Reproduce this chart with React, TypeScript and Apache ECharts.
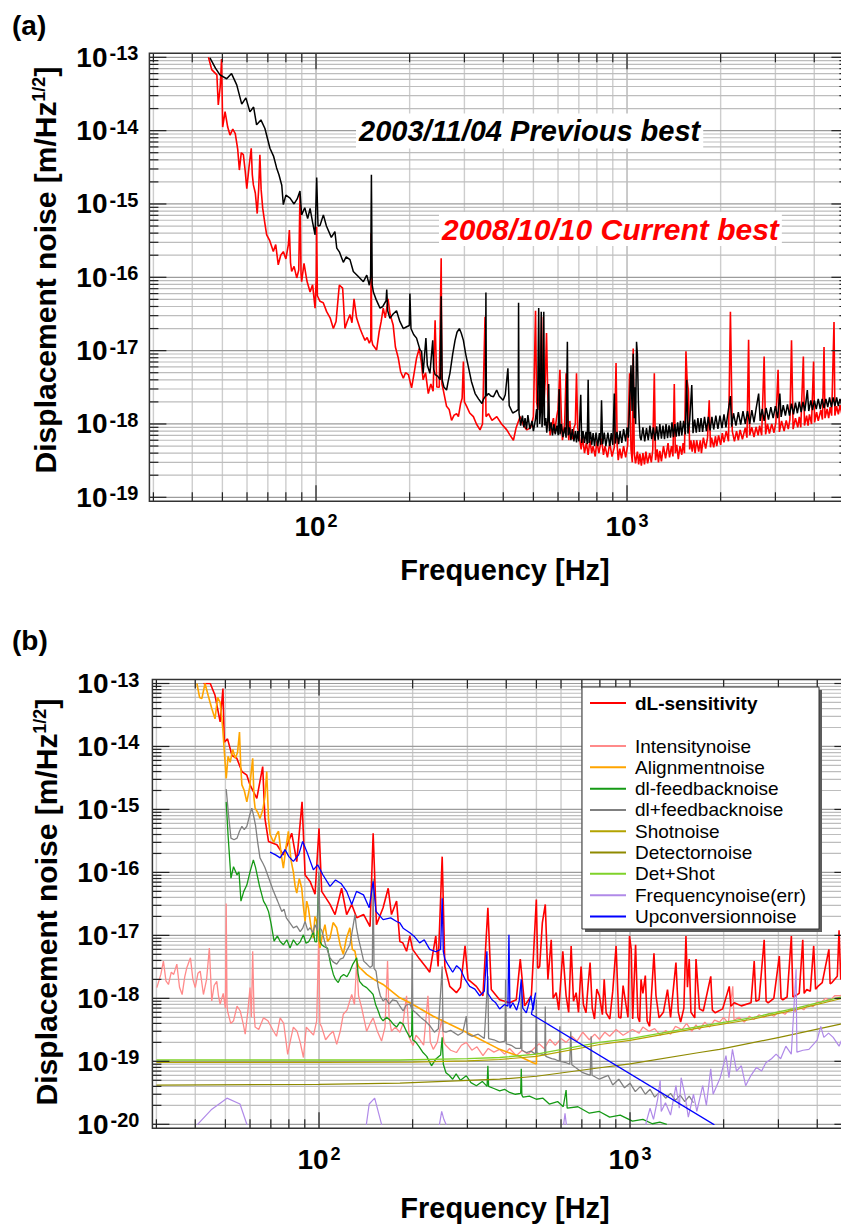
import React, { useEffect, useRef } from 'react';
import * as echarts from 'echarts';

type Pt = [number, number];

// ---------------- panel (a) data ----------------
const previousBest2003: Pt[] = [
  [45.6,9.8e-14],[47.5,7.1e-14],[49.1,5.75e-14],[51.6,5.1e-14],[53.5,6.0e-14],[55.6,4.2e-14],[57.7,2.3e-14],[59.5,2.8e-14],[61.3,1.8e-14],[63,2.1e-14],
  [64.4,1.2e-14],[66.5,1.4e-14],[68.5,1.07e-14],[71.1,5.75e-15],[73,4.5e-15],[74.7,3.1e-15],[76,2.5e-15],[77.6,1.8e-15],[78.5,9.8e-16],[80,1.32e-15],
  [82.5,1.2e-15],[85,1.0e-15],[87,1.17e-15],[88.8,1.5e-15],[89.9,7.1e-16],[92,8.9e-16],[94,6.3e-16],[95.7,8.7e-16],[97.5,5.6e-16],[99.3,3.8e-16],
  [100.5,2.3e-15],[101.5,5.0e-16],[103,5.1e-16],[105.6,7.1e-16],[108,5.0e-16],[112,3.5e-16],[115,4.2e-16],[116.6,2.5e-16],[119,2.2e-16],[122.4,1.6e-16],
  [125,1.9e-16],[128.6,1.74e-16],[131.8,1.2e-16],[136,1.05e-16],[142,8.7e-17],[145.6,1.07e-16],[148.4,7.8e-17],[149.8,1.0e-16],[150.7,2.5e-15],[151.6,7.9e-17],
  [152.9,6.3e-17],[156,5.0e-17],[160.6,3.8e-17],[164,4.0e-17],[168,4.8e-17],[168.8,6.8e-17],[170,3.5e-17],[172.8,2.75e-17],[177,3.16e-17],[181.5,3.5e-17],
  [186,2.5e-17],[190.9,2.0e-17],[195,2.1e-17],[199.5,2.2e-17],[200.4,6.0e-17],[202,2.0e-17],[206,1.66e-17],[210.5,1.48e-17],[216,1.02e-17],[218.5,9.8e-18],
  [221,4.9e-18],[225.6,1.48e-17],[228,6.3e-18],[232.4,4.9e-18],[237.3,1.38e-17],[239,5.6e-18],[241.5,4.7e-18],[246,4.5e-18],[250.8,4.0e-18],[252.6,5.5e-17],
  [254.5,4.0e-18],[258,3.16e-18],[262.9,2.9e-18],[266,3.8e-18],[269.5,4.9e-18],[275,8.9e-18],[279.9,1.38e-17],[284,1.78e-17],[289,2.0e-17],[293,1.74e-17],
  [297.8,1.38e-17],[303,8.9e-18],[309,6.0e-18],[316,3.8e-18],[324.8,2.6e-18],[333,2.2e-18],[341.6,1.9e-18],[346,2.2e-18],[350.5,2.4e-18],[351.8,6.2e-17],
  [353,2.4e-18],[358.6,2.6e-18],[365,2.4e-18],[372,2.35e-18],[381,2.9e-18],[388,2.4e-18],[399.5,2.1e-18],[406,2.5e-18],[414,5.75e-18],[418,1.78e-18],
  [429,1.41e-18],[440,1.5e-18],[447,1.58e-18],[448,4.5e-17],[449.5,1.41e-18],[455,9.5e-19],[461,1.3e-18],[466,9.0e-19],[470,1.2e-18],[475,8.5e-19],
  [480,1.32e-18],[487,8.5e-19],[495,1.1e-18],[500,8.0e-19],[507,1.12e-18],[512,1.6e-18],[515,9.0e-19],[520,3.8e-17],[524,1.0e-18],[527,1.5e-18],
  [530,3.4e-17],[533,9.0e-19],[536,1.4e-18],[540,3.4e-17],[543,9.5e-19],[548,1.2e-18],[552,7.6e-19],[556,1.1e-18],[560,3.5e-18],[563,8.0e-19],
  [570,1.05e-18],[576,7.0e-19],[582,1.0e-18],[588,7.2e-19],[595,9.5e-19],[601,7.0e-19],[605,3.0e-18],[609,7.2e-19],[615,1.0e-18],[622,6.6e-19],
  [631,9.0e-19],[637,6.5e-19],[643,1.32e-17],[647,7.0e-19],[653,9.0e-19],[660,6.0e-19],[667,8.5e-19],[675,5.8e-19],[682,8.0e-19],[688,5.6e-19],
  [694,8.0e-19],[700,5.8e-19],[710,2.5e-18],[715,5.5e-19],[722,8.0e-19],[730,5.5e-19],[738,7.8e-19],[745,5.3e-19],[750,4.0e-18],[755,5.5e-19],
  [763,7.8e-19],[770,5.2e-19],[778,7.5e-19],[786,5.0e-19],[795,7.6e-19],[805,5.0e-19],[815,7.5e-19],[822,5.2e-19],[828,2.1e-18],[835,5.3e-19],
  [845,7.6e-19],[855,5.0e-19],[868,7.6e-19],[880,5.0e-19],[890,7.5e-19],[900,5.2e-19],[910,2.6e-18],[917,5.4e-19],[928,7.8e-19],[940,5.3e-19],
  [950,8.0e-19],[962,5.5e-19],[975,8.5e-19],[990,5.8e-19],[1000,9.0e-19],[1010,6.5e-19],[1020,2.0e-18],[1030,6.3e-18],[1038,1.5e-18],[1047,9.1e-18],
  [1055,1.2e-18],[1060,3.16e-18],[1066,1.0e-18],[1073,1.32e-17],[1080,8.9e-18],[1088,2.0e-18],[1095,1.0e-18],[1102,6.6e-19],[1110,6.0e-19],[1125,9.0e-19],
  [1140,5.8e-19],[1155,8.8e-19],[1170,6.0e-19],[1185,9.5e-19],[1200,6.2e-19],[1215,9.0e-19],[1230,5.9e-19],[1245,9.3e-19],[1260,6.1e-19],[1275,1.0e-18],
  [1290,6.3e-19],[1305,9.5e-19],[1320,6.2e-19],[1335,1.0e-18],[1350,6.4e-19],[1365,9.6e-19],[1380,6.5e-19],[1395,1.05e-18],[1410,6.6e-19],[1425,1.0e-18],
  [1440,6.7e-19],[1455,1.05e-18],[1470,6.8e-19],[1485,1.1e-18],[1500,7.0e-19],[1520,1.1e-18],[1540,7.2e-19],[1556,4.0e-18],[1570,7.4e-19],[1590,1.1e-18],
  [1615,3.4e-18],[1630,7.5e-19],[1650,1.15e-18],[1670,7.6e-19],[1690,1.2e-18],[1710,7.8e-19],[1730,1.2e-18],[1750,7.8e-19],[1775,1.25e-18],[1800,8.0e-19],
  [1825,1.25e-18],[1850,8.2e-19],[1875,1.25e-18],[1900,8.4e-19],[1930,1.3e-18],[1960,8.6e-19],[1990,1.3e-18],[2020,8.8e-19],[2050,1.35e-18],[2080,9.0e-19],
  [2110,1.4e-18],[2150,2.4e-18],[2170,9.2e-19],[2200,1.4e-18],[2240,9.5e-19],[2280,1.45e-18],[2320,9.8e-19],[2360,1.5e-18],[2400,1.0e-18],[2440,1.5e-18],
  [2480,1.0e-18],[2520,1.55e-18],[2560,1.05e-18],[2600,1.6e-18],[2650,2.6e-18],[2680,1.1e-18],[2720,1.6e-18],[2760,1.1e-18],[2800,1.65e-18],[2850,1.15e-18],
  [2900,1.7e-18],[2950,1.2e-18],[3000,1.75e-18],[3050,1.2e-18],[3100,2.6e-18],[3130,1.25e-18],[3180,1.8e-18],[3230,1.3e-18],[3280,1.85e-18],[3330,1.3e-18],
  [3380,1.9e-18],[3430,1.35e-18],[3480,1.95e-18],[3530,1.4e-18],[3580,2.0e-18],[3630,1.45e-18],[3680,2.0e-18],[3730,1.5e-18],[3800,2.9e-18],[3840,1.5e-18],
  [3900,2.1e-18],[3950,1.55e-18],[4000,2.1e-18],[4060,1.6e-18],[4120,2.2e-18],[4180,1.6e-18],[4240,2.2e-18],[4300,1.65e-18],[4360,2.2e-18],[4420,1.7e-18],
  [4480,2.3e-18],[4540,1.7e-18],[4600,2.3e-18],[4660,1.75e-18],[4720,2.3e-18],[4780,1.75e-18],[4840,2.2e-18],[4900,1.8e-18],[4960,2.3e-18],[5000,1.9e-18],
];

const currentBest2008: Pt[] = [
  [45.1,1.0e-13],[46.2,6.8e-14],[48,5.75e-14],[48.5,2.24e-14],[49.2,4.0e-14],[49.7,9.5e-14],[50.1,1.12e-14],[51,1.82e-14],[52,1.12e-14],[52.9,8.7e-15],
  [54,1.05e-14],[55,9.1e-15],[56,5.6e-15],[56.7,2.9e-15],[57.5,5.0e-15],[58.4,4.7e-15],[59.2,2.8e-15],[59.9,1.62e-15],[60.9,3.2e-15],[61.9,5.75e-15],
  [62.4,2.5e-15],[62.9,1.82e-15],[63.8,1.41e-15],[64.7,7.4e-16],[65.4,1.58e-15],[66,4.7e-15],[66.6,1.58e-15],[67.4,8.7e-16],[68.4,5.6e-16],[69.4,3.8e-16],
  [71,3.16e-16],[72.9,2.24e-16],[74.2,2.8e-16],[75.6,1.48e-16],[77,2.0e-16],[78.5,2.24e-16],[80,1.78e-16],[81.5,2.8e-16],[82.1,4.4e-16],[82.8,1.58e-16],
  [83.5,1.2e-16],[85,1.41e-16],[86.7,9.8e-17],[88,1.26e-16],[88.8,1.32e-15],[89.5,1.12e-16],[89.9,8.7e-17],[91.5,1.55e-16],[93.5,8.9e-17],[95.7,6.3e-17],
  [97.5,7.9e-17],[99.3,3.8e-17],[100.2,1.0e-16],[100.5,4.9e-16],[101,5.6e-17],[103,4.7e-17],[105.5,4.5e-17],[108.2,3.4e-17],[111,2.8e-17],[113.7,2.0e-17],
  [116,2.5e-17],[118.8,7.8e-17],[121.8,7.1e-17],[123.9,2.0e-17],[126,2.5e-17],[128.6,3.1e-17],[130.5,2.4e-17],[132.5,5.1e-17],[135,2.8e-17],[138.5,2.0e-17],
  [141,1.66e-17],[143.7,1.38e-17],[146,1.51e-17],[148.4,1.26e-17],[150,1.41e-17],[150.4,4.0e-16],[151,1.41e-17],[152.2,1.2e-17],[156.6,1.02e-17],[159.5,1.78e-17],
  [162,2.5e-17],[164.5,3.8e-17],[167,2.8e-17],[170.5,5.1e-17],[173,3.16e-17],[177,2.24e-17],[180,1.12e-17],[183.9,7.9e-18],[187,5.2e-18],[190.9,4.2e-18],
  [194,5.0e-18],[198.2,4.7e-18],[202.9,3.1e-18],[206,4.5e-18],[210.5,7.9e-18],[214.7,1.07e-17],[218,7.1e-18],[221,4.0e-18],[225,5.0e-18],[229.6,2.6e-18],
  [234,3.5e-18],[238,2.8e-18],[241.5,2.6e-17],[244.6,3.2e-18],[249,3.16e-18],[252.6,1.82e-16],[254,3.5e-18],[256.6,2.9e-18],[262.9,1.74e-18],[268,1.58e-18],
  [272.8,1.12e-18],[278,1.32e-18],[283.2,1.38e-18],[287,1.26e-18],[291.7,1.9e-18],[295,2.24e-18],[297.8,7.1e-18],[300,2.0e-18],[305.1,1.74e-18],[312,1.41e-18],
  [320.6,1.26e-18],[328,1.0e-18],[336.8,8.3e-19],[343,1.0e-18],[349.5,2.9e-17],[352,1.26e-18],[358.5,1.38e-18],[368,1.12e-18],[381.3,1.26e-18],[395,1.0e-18],
  [410.5,8.3e-19],[420,7.1e-19],[431.3,6.0e-19],[440,8.9e-19],[453.3,1.26e-18],[465,9.5e-19],[476.3,8.3e-19],[490,8.9e-19],[500,1.26e-18],[508,3.5e-17],
  [512,2.0e-18],[516.7,1.55e-18],[525,3.16e-18],[531.3,2.9e-17],[535,2.5e-18],[540,1.74e-18],[546,4.0e-18],[551,1.74e-17],[556,2.5e-18],[562,1.12e-18],
  [566,7.0e-19],[571.8,9.1e-19],[580,1.2e-18],[585,7.5e-19],[590,1.0e-18],[595,1.3e-18],[600,1.58e-18],[608.5,5.5e-18],[615,1.26e-18],[620,6.0e-19],
  [625,7.9e-19],[630,1.0e-18],[637,4.9e-18],[645,1.0e-18],[650,6.0e-19],[655,1.1e-18],[660,7.1e-19],[668,6.2e-19],[675,8.9e-19],[682,1.0e-18],
  [688,4.9e-18],[694,8.9e-19],[700,7.4e-19],[712,4.5e-19],[720,6.5e-19],[730,4.0e-19],[740,5.5e-19],[750,3.8e-19],[760,6.0e-19],[770,4.0e-19],
  [778,5.0e-19],[790,3.6e-19],[800,5.8e-19],[812,4.0e-19],[828,6.3e-19],[840,3.8e-19],[850,5.0e-19],[865,3.5e-19],[880,5.5e-19],[895,3.6e-19],
  [910,4.8e-19],[922,6.8e-18],[930,5.0e-19],[937,3.2e-19],[948,4.6e-19],[960,3.4e-19],[975,5.0e-19],[990,3.5e-19],[1005,5.2e-19],[1019,4.9e-18],
  [1030,4.5e-19],[1040,3.0e-19],[1047,1.07e-17],[1055,4.0e-19],[1065,2.9e-19],[1080,4.2e-19],[1090,2.8e-19],[1100,3.9e-19],[1112,2.7e-19],[1125,4.0e-19],
  [1138,2.8e-19],[1150,4.2e-19],[1165,2.9e-19],[1183,4.0e-19],[1197,3.0e-19],[1210,4.4e-19],[1224,4.9e-18],[1235,3.2e-19],[1250,4.5e-19],[1262,3.0e-19],
  [1275,4.3e-19],[1290,3.1e-19],[1310,5.0e-19],[1330,3.4e-19],[1355,5.5e-19],[1370,3.5e-19],[1390,5.0e-19],[1405,3.6e-19],[1419,3.5e-18],[1430,4.0e-19],
  [1445,5.2e-19],[1462,3.3e-19],[1480,5.0e-19],[1500,3.8e-19],[1515,5.5e-19],[1530,4.0e-19],[1547,9.8e-18],[1560,4.0e-18],[1576,2.8e-18],[1590,4.5e-19],
  [1605,6.0e-19],[1620,4.2e-19],[1640,6.0e-19],[1655,4.0e-19],[1675,6.0e-19],[1700,4.2e-19],[1720,6.0e-19],[1735,4.0e-19],[1760,6.5e-19],[1790,4.6e-19],
  [1815,6.5e-19],[1838,2.1e-18],[1855,4.8e-19],[1870,6.5e-19],[1900,4.8e-19],[1925,6.8e-19],[1943,5.0e-19],[1970,7.0e-19],[2000,5.2e-19],[2025,7.5e-19],
  [2050,5.6e-19],[2085,8.0e-19],[2120,5.8e-19],[2150,3.4e-17],[2180,8.0e-19],[2215,5.8e-19],[2250,8.0e-19],[2280,6.0e-19],[2310,8.3e-19],[2350,6.2e-19],
  [2400,8.9e-19],[2430,6.5e-19],[2460,1.41e-17],[2480,7.0e-19],[2520,9.0e-19],[2560,6.6e-19],[2600,9.1e-19],[2640,7.0e-19],[2670,9.5e-19],[2710,7.0e-19],
  [2760,8.3e-18],[2790,7.2e-19],[2830,1.0e-18],[2870,7.4e-19],[2920,1.0e-18],[2970,7.6e-19],[3010,1.05e-18],[3060,5.5e-18],[3090,7.8e-19],[3140,1.1e-18],
  [3200,8.0e-19],[3250,1.12e-18],[3300,8.5e-19],[3340,1.15e-18],[3380,1.38e-17],[3420,8.5e-19],[3480,1.2e-18],[3540,9.0e-19],[3580,1.25e-18],[3620,9.0e-19],
  [3690,8.3e-18],[3720,9.5e-19],[3780,1.3e-18],[3820,9.5e-19],[3860,1.35e-18],[3920,1.0e-18],[3980,7.1e-18],[4010,1.05e-18],[4070,1.45e-18],[4120,1.1e-18],
  [4200,1.55e-18],[4250,1.15e-18],[4300,1.12e-17],[4330,1.2e-18],[4400,1.6e-18],[4450,1.2e-18],[4500,1.7e-18],[4550,1.3e-18],[4630,2.45e-17],[4660,1.3e-18],
  [4720,1.75e-18],[4780,1.35e-18],[4840,1.8e-18],[4900,1.4e-18],[4960,1.8e-18],[5000,1.5e-18],
];

// ---------------- panel (b) data ----------------
const dlSensitivity: Pt[] = [
  [42.5,1.0e-13],[44.7,1.0e-13],[46.3,6.5e-14],[48.1,2.45e-14],[49.1,8.3e-14],[49.6,1.17e-14],[50.8,1.32e-14],[52.5,7.2e-15],[54.4,6.5e-15],[56.5,4.0e-15],
  [58.6,3.5e-15],[60,2.45e-15],[63.1,1.5e-15],[65.9,4.8e-15],[67,7.2e-16],[68.8,3.1e-16],[73.2,2.75e-16],[76.8,1.9e-16],[81.7,4.2e-16],[84.8,1.48e-16],
  [88.2,1.32e-15],[90.2,9.1e-17],[93.6,7.2e-17],[97.1,4.5e-17],[100,5.0e-16],[102,5.0e-17],[108.5,3.1e-17],[112.6,2.14e-17],[118.2,5.6e-17],[122.7,2.14e-17],
  [127.4,3.1e-17],[132.2,1.9e-17],[139.2,2.14e-17],[145.9,1.38e-17],[149.3,4.2e-16],[153,1.48e-17],[160.7,2.75e-17],[166.9,5.6e-17],[171,2.14e-17],[177.6,3.5e-17],
  [181.9,8.0e-18],[186,7.6e-18],[191.2,5.6e-18],[195.9,9.8e-18],[200,6.0e-18],[210.6,4.2e-18],[220,3.2e-18],[227,2.6e-18],[237.4,9.8e-18],[241.5,3.2e-18],
  [248.9,1.78e-16],[253.9,3.2e-18],[263.3,1.55e-18],[276.6,1.23e-18],[285,1.5e-18],[294.8,6.8e-18],[301.4,2.0e-18],[320.6,1.55e-18],[336.6,1.1e-18],[349.1,2.75e-17],
  [358,1.38e-18],[380.8,9.5e-19],[410,8.5e-19],[430.8,9.5e-19],[443.7,4.2e-18],[458.4,7.6e-19],[481.7,1.1e-18],[499.8,3.7e-17],[505,3.0e-18],[512.3,3.2e-18],
  [522.5,1.58e-17],[534,3.1e-17],[544.5,2.0e-18],[558,8.5e-18],[566,1.0e-18],[578.8,1.23e-18],[590,6.5e-19],[608,5.6e-18],[623,1.1e-18],[635,6.0e-19],
  [646.7,6.8e-18],[658,9.0e-19],[671,1.23e-18],[683,6.0e-19],[696,3.2e-18],[708,8.0e-19],[722,5.9e-19],[733,1.6e-18],[744,3.7e-18],[756,7.0e-19],
  [768.7,4.7e-19],[782,1.4e-18],[797,1.1e-18],[815,5.5e-19],[826,2.0e-18],[838,5.9e-19],[861,4.7e-19],[880,1.3e-18],[902,6.8e-18],[920,5.0e-19],
  [935,4.9e-19],[950,1.6e-18],[970,8.0e-19],[985,5.0e-19],[996,9.8e-18],[1009,6.0e-18],[1020,4.7e-19],[1042,7.1e-18],[1060,5.0e-19],[1074,4.2e-19],
  [1085,2.0e-18],[1100,1.2e-18],[1120,2.3e-18],[1135,4.4e-19],[1156,3.6e-19],[1194,5.2e-18],[1212,1.1e-18],[1240,4.9e-19],[1280,6.0e-19],[1320,1.38e-18],
  [1350,5.0e-19],[1405,3.7e-18],[1430,6.0e-19],[1455,4.2e-19],[1490,7.0e-19],[1513,9.8e-18],[1530,1.5e-18],[1550,4.2e-18],[1570,6.0e-19],[1615,4.9e-19],
  [1630,4.2e-18],[1672,6.8e-19],[1720,6.3e-19],[1818,2.24e-18],[1840,6.5e-19],[1880,5.9e-19],[1985,6.8e-19],[2085,1.55e-18],[2110,7.5e-19],[2164,8.5e-19],
  [2280,7.6e-19],[2450,8.5e-19],[2508,3.9e-18],[2540,9.0e-19],[2600,9.5e-19],[2700,8.5e-18],[2740,9.0e-19],[2780,8.5e-19],[2900,1.0e-18],[3020,4.7e-18],
  [3060,1.0e-18],[3100,9.5e-19],[3200,1.05e-18],[3302,9.8e-18],[3340,1.05e-18],[3400,1.1e-18],[3500,1.2e-18],[3593,8.5e-18],[3630,1.2e-18],[3700,1.38e-18],
  [3800,1.3e-18],[3896,6.8e-18],[3950,1.4e-18],[4020,1.55e-18],[4150,1.78e-18],[4360,6.0e-18],[4400,1.7e-18],[4460,1.78e-18],[4640,2.24e-18],[4700,1.2e-17],
  [4760,2.0e-18],[4900,2.5e-18],[5000,2.2e-18],
];

const intensityNoise: Pt[] = [
  [30.1,1.48e-18],[31,2.4e-18],[31.6,3.9e-18],[32.2,1.9e-18],[32.8,1.66e-18],[33.5,2.6e-18],[34.1,2.4e-18],[34.9,3.5e-18],[35.6,1.5e-18],[36.3,1.15e-18],
  [37,2.2e-18],[37.6,3.1e-18],[38.6,4.4e-18],[39.3,2.0e-18],[40,1.48e-18],[40.8,2.5e-18],[41.5,2.7e-18],[42.5,1.15e-18],[43.5,2.0e-18],[44.4,6.3e-18],
  [45.2,9.1e-19],[46,1.6e-18],[46.9,1.86e-18],[47.5,1.1e-18],[48.1,8.1e-19],[49.2,1.2e-18],[50,7.0e-19],[50.3,3.2e-17],[50.6,8.0e-19],[50.8,6.3e-19],
  [52,4.0e-19],[53.1,4.4e-19],[54.5,7.5e-19],[55.8,6.3e-19],[57,4.0e-19],[57.9,2.7e-19],[59,6.0e-19],[60,1.48e-18],[60.6,5.0e-19],[61.2,5.6e-18],
  [61.8,6.0e-19],[62.3,3.5e-19],[64,3.2e-19],[66.3,4.9e-19],[68.5,4.4e-19],[71.4,3.0e-19],[73,2.5e-19],[75,4.9e-19],[77,4.0e-19],[79.3,1.29e-19],
  [81,2.2e-19],[82.7,3.5e-19],[85,3.0e-19],[87,2.0e-19],[89.1,1.15e-19],[91,3.5e-19],[93.6,3.0e-19],[96,2.6e-19],[98.3,4.4e-19],[99.8,1.02e-17],
  [100.6,4.0e-19],[102,3.5e-19],[105,2.2e-19],[108.5,2.7e-19],[111,3.0e-19],[114,1.86e-19],[117,3.0e-19],[119.7,5.6e-19],[123,6.5e-19],[127.4,1.15e-18],
  [130,8.0e-19],[132.2,3.9e-18],[134,1.1e-18],[137.1,7.1e-19],[142.3,3.0e-19],[146,4.0e-19],[149.3,4.9e-19],[154,3.0e-19],[158.9,2.1e-19],[163,3.5e-19],
  [166.1,3.9e-18],[168,5.0e-19],[171,3.0e-19],[176,3.5e-19],[181.9,2.9e-19],[186,3.9e-19],[191.2,1.1e-18],[195,2.4e-19],[200.6,1.78e-19],[205,2.6e-19],
  [210.6,2.24e-19],[217,1.8e-19],[224,1.1e-18],[228,2.0e-19],[233,1.55e-19],[240,2.0e-19],[248,4.7e-19],[252,2.0e-19],[256,1.78e-19],[265,1.5e-19],
  [276.6,1.38e-19],[287,1.8e-19],[297.6,2.0e-19],[310,1.5e-19],[322,1.7e-19],[336.6,1.23e-19],[350,1.6e-19],[365,1.4e-19],[380.8,1.55e-19],[395,1.3e-19],
  [410,1.6e-19],[430.8,1.23e-19],[450,1.5e-19],[470,1.3e-19],[488,1.55e-19],[510,1.9e-19],[530,1.6e-19],[552,2.24e-19],[575,1.8e-19],[600,2.3e-19],
  [623,2.0e-19],[650,2.5e-19],[675,2.1e-19],[705,2.9e-19],[740,2.2e-19],[770,2.7e-19],[797,2.24e-19],[830,2.9e-19],[860,2.5e-19],[902,3.2e-19],
  [950,2.6e-19],[1018,3.2e-19],[1070,2.8e-19],[1100,3.5e-19],[1150,3.0e-19],[1200,3.3e-19],[1250,2.6e-19],[1303,3.1e-19],[1350,2.7e-19],[1400,3.6e-19],
  [1470,3.2e-19],[1520,4.0e-19],[1580,3.0e-19],[1630,3.8e-19],[1672,3.2e-19],[1740,4.2e-19],[1800,3.5e-19],[1870,4.5e-19],[1940,4.2e-19],[2000,5.0e-19],
  [2070,4.0e-19],[2140,1.55e-18],[2160,4.5e-19],[2240,5.0e-19],[2330,4.2e-19],[2420,5.2e-19],[2500,4.6e-19],[2600,5.5e-19],[2700,5.0e-19],[2800,5.8e-19],
  [2900,5.2e-19],[3020,6.3e-19],[3150,5.6e-19],[3280,6.8e-19],[3400,6.2e-19],[3500,7.2e-19],[3620,6.6e-19],[3750,8.0e-19],[3880,7.4e-19],[4000,8.9e-19],
  [4100,8.5e-19],[4250,1.0e-18],[4400,9.3e-19],[4550,1.1e-18],[4750,1.1e-18],[4900,1.26e-18],[5000,1.2e-18],
];

const alignmentNoise: Pt[] = [
  [40.5,1.0e-13],[41.3,6.0e-14],[42,5.75e-14],[43,1.0e-13],[44,6.5e-14],[45.2,4.0e-14],[46.3,2.75e-14],[47.2,6.0e-14],[48.1,5.0e-14],[49,2.0e-14],
  [50.3,3.1e-15],[51,7.0e-15],[51.8,5.6e-15],[52.8,9.0e-15],[53.8,6.5e-15],[54.7,8.0e-15],[55.5,1.7e-14],[56,5.0e-15],[56.5,2.45e-15],[57.5,2.0e-15],
  [58.6,1.32e-15],[59.8,2.2e-15],[61.2,6.5e-15],[61.8,1.5e-15],[62.3,1.05e-15],[63.5,9.0e-16],[64.6,7.2e-16],[66,1.0e-15],[67,1.6e-15],[67.9,4.0e-15],
  [68.8,7.0e-16],[69.6,4.0e-16],[71.5,3.0e-16],[73,4.0e-16],[74.1,4.5e-16],[75.5,2.0e-16],[76.8,1.17e-16],[78.3,2.5e-16],[79.7,4.5e-16],[81.2,1.6e-16],
  [82.7,1.02e-16],[83.8,6.0e-17],[84.8,4.7e-17],[86.4,8.0e-17],[88,5.6e-17],[89,3.0e-17],[90.2,1.66e-17],[91.3,3.5e-17],[92.4,2.75e-17],[94,1.5e-17],
  [95.9,9.1e-18],[97,2.0e-17],[98.3,1.66e-17],[99.5,1.0e-17],[100.7,6.3e-18],[102.5,1.0e-17],[104.5,1.48e-17],[106.5,8.0e-18],[108.5,9.1e-18],[111,1.6e-17],
  [114,1.32e-17],[117,7.0e-18],[119.7,5.0e-18],[122.5,9.0e-18],[125.7,1.32e-17],[128,6.0e-18],[130.5,5.6e-18],[132,4.0e-18],[134,3.2e-18],[142.3,2.4e-18],
  [150,2.0e-18],[160.7,1.66e-18],[181.9,1.02e-18],[195.9,8.5e-19],[233,5.2e-19],[297.6,2.9e-19],[380.8,1.55e-19],[440,1.2e-19],[488,9.5e-20],[500,9.1e-20],
  [500.5,1.4e-19],
];

const dlFeedbackNoise: Pt[] = [
  [50.3,1.32e-15],[51,3.9e-16],[52.1,8.1e-17],[53.1,1.23e-16],[54.5,9.1e-17],[55.3,1.02e-16],[56.1,3.5e-17],[57.3,5.0e-17],[58.6,6.3e-17],[60,1.02e-16],
  [61.5,1.58e-16],[62.5,1.2e-16],[64.4,6.0e-17],[66.3,3.5e-17],[67.5,3.0e-17],[68.8,2.4e-17],[70.2,1.5e-17],[71.7,8.1e-18],[73.5,9.8e-18],[75,8.0e-18],
  [76.8,7.1e-18],[78.8,8.5e-18],[80.7,6.3e-18],[82.7,8.5e-18],[85,7.0e-18],[87,7.9e-18],[89.1,1.02e-17],[90.8,7.5e-18],[92.5,7.9e-18],[94,9.0e-18],
  [95.9,1.15e-17],[97,8.0e-18],[98.3,7.9e-18],[99.8,9.1e-17],[100.8,8.0e-18],[102,7.1e-18],[104,6.6e-18],[106.5,6.3e-18],[109,3.5e-18],[111.2,2.4e-18],
  [113,2.0e-18],[115.3,1.78e-18],[117.5,2.2e-18],[120,2.4e-18],[123,2.2e-18],[125.7,2.7e-18],[128.5,3.5e-18],[132.2,4.4e-18],[133.5,2.5e-18],[135,1.86e-18],
  [138.5,1.6e-18],[142.3,1.48e-18],[146,1.3e-18],[149.3,1.15e-18],[152,8.0e-19],[155,6.3e-19],[157.5,5.0e-19],[160.7,4.4e-19],[165,5.0e-19],[170,4.4e-19],
  [174,3.8e-19],[177.6,3.5e-19],[182,4.2e-19],[186.4,3.9e-19],[191,3.0e-19],[195.9,2.4e-19],[198.5,2.6e-19],[199.3,9.3e-19],[200.1,2.2e-19],[205,2.0e-19],
  [210,1.7e-19],[216,1.38e-19],[222,1.2e-19],[230,8.5e-20],[238,1.1e-19],[246,1.26e-19],[248.9,2.4e-19],[251,9.0e-20],[256,6.6e-20],[262,6.0e-20],
  [269,5.2e-20],[276,6.3e-20],[285,5.0e-20],[297.6,5.9e-20],[308,4.6e-20],[320.6,4.1e-20],[335,4.8e-20],[347,4.0e-20],[349.1,8.5e-20],[351,4.0e-20],
  [365,3.7e-20],[380.8,3.4e-20],[395,3.6e-20],[410,3.2e-20],[428,3.0e-20],[445,3.1e-20],[447,7.6e-20],[449,2.9e-20],[453,2.7e-20],[475,2.8e-20],
  [499.8,2.5e-20],[525,2.6e-20],[550,2.1e-20],[585,2.3e-20],[610,1.9e-20],[623,3.5e-20],[628,1.8e-20],[680,1.9e-20],[740,1.5e-20],[797,1.6e-20],
  [860,1.3e-20],[930,1.4e-20],[1018,1.12e-20],[1100,1.2e-20],[1180,1.02e-20],[1247,1.08e-20],[1313,1.0e-20],
];

const dlPlusFeedbackNoise: Pt[] = [
  [50.3,2.1e-15],[51.2,8.0e-16],[52.1,3.5e-16],[53.3,3.3e-16],[54.5,3.5e-16],[55.5,4.5e-16],[56.5,5.4e-16],[57.5,4.8e-16],[58.6,5.4e-16],[59.8,8.0e-16],
  [60.8,1.05e-15],[61.6,8.0e-16],[62.5,5.6e-16],[63.5,3.0e-16],[64.6,1.7e-16],[66,1.4e-16],[67,1.2e-16],[69,8.0e-17],[71.4,5.0e-17],[73.6,3.5e-17],
  [75.9,2.4e-17],[77.2,2.6e-17],[78.5,1.9e-17],[80.5,1.6e-17],[82.7,1.32e-17],[84.8,1.4e-17],[87,1.15e-17],[88.6,1.3e-17],[90.2,1.66e-17],[92,1.2e-17],
  [93.6,1.32e-17],[95.5,1.1e-17],[97.1,1.48e-17],[98.8,1.2e-17],[99.8,1.02e-16],[100.8,1.3e-17],[102,1.2e-17],[105,7.0e-18],[108.5,4.4e-18],[111,3.8e-18],
  [114,3.5e-18],[117,4.2e-18],[119.7,4.4e-18],[122.5,5.6e-18],[125.7,7.1e-18],[128,1.2e-17],[130.5,2.14e-17],[132,1.3e-17],[133.8,9.1e-18],[136.5,6.0e-18],
  [139.2,3.9e-18],[142.5,3.5e-18],[145.9,3.1e-18],[148.4,3.3e-18],[149.3,7.9e-17],[150.3,3.0e-18],[152.5,2.7e-18],[155,1.5e-18],[157.5,1.1e-18],[160.7,9.1e-19],
  [164,1.0e-18],[168,8.1e-19],[172.5,9.5e-19],[177.6,9.1e-19],[182,7.5e-19],[186.4,6.3e-19],[191,7.9e-19],[195.9,8.1e-19],[198.5,7.0e-19],[199.3,5.2e-18],
  [200.1,6.5e-19],[205,5.9e-19],[212,5.0e-19],[221.4,4.2e-19],[228,3.6e-19],[235,2.9e-19],[242,3.3e-19],[248.9,3.2e-18],[250.5,3.0e-19],[256,2.9e-19],
  [265,3.1e-19],[280,2.6e-19],[290,2.9e-19],[297.6,5.2e-19],[300,2.7e-19],[310,2.5e-19],[325,2.7e-19],[340,2.3e-19],[349.1,2.24e-18],[351,2.3e-19],
  [365,2.2e-19],[380.8,2.0e-19],[396,2.1e-19],[398,2.0e-18],[400,1.9e-19],[415,1.8e-19],[430,1.6e-19],[445,1.6e-19],[447,1.78e-18],[449,1.5e-19],
  [464,1.38e-19],[480,1.45e-19],[497,1.3e-19],[499.8,9.5e-19],[502,1.35e-19],[520,1.3e-19],[532,1.25e-19],[534,7.4e-19],[536,1.2e-19],[560,1.1e-19],
  [575,1.07e-19],[593,1.0e-19],[595,3.6e-19],[597,1.0e-19],[623,9.5e-20],[640,9.0e-20],[645,3.0e-19],[650,8.8e-20],[680,7.5e-20],[705,6.6e-20],
  [745,6.0e-20],[750,2.5e-19],[755,6.0e-20],[797,5.2e-20],[850,6.0e-20],[880,4.2e-20],[920,5.2e-20],[960,3.8e-20],[1000,4.5e-20],[1040,3.3e-20],
  [1080,4.0e-20],[1120,3.0e-20],[1160,3.6e-20],[1200,2.7e-20],[1250,3.3e-20],[1302,2.6e-20],[1350,3.1e-20],[1400,2.4e-20],[1450,2.9e-20],[1500,2.3e-20],
  [1550,2.8e-20],[1600,2.2e-20],
];

const shotNoise: Pt[] = [
  [30,9.6e-20],[100,9.6e-20],[200,9.7e-20],[300,1.02e-19],[381,1.07e-19],[500,1.2e-19],[800,1.85e-19],[1000,2.15e-19],[1672,3.4e-19],[2500,4.7e-19],
  [3500,6.8e-19],[4640,9.6e-19],[5000,1.05e-18],
];

const detectorNoise: Pt[] = [
  [30,4.2e-20],[100,4.3e-20],[182,4.5e-20],[381,5.2e-20],[500,5.8e-20],[800,7.9e-20],[1000,9.1e-20],[1672,1.38e-19],[1940,1.55e-19],[3020,2.4e-19],
  [4750,3.9e-19],[5000,4.1e-19],
];

const detShotNoise: Pt[] = [
  [30,1.05e-19],[100,1.05e-19],[182,1.05e-19],[300,1.1e-19],[381,1.15e-19],[500,1.3e-19],[797,2.0e-19],[1000,2.3e-19],[1672,3.6e-19],[2500,5.0e-19],
  [3500,7.2e-19],[4640,1.02e-18],[5000,1.1e-18],
];

const frequencyNoiseErr: Pt[] = [
  [38,5.0e-21],[40.7,1.0e-20],[45,1.7e-20],[50.6,2.6e-20],[55.7,2.1e-20],[58.6,1.0e-20],[62,5.0e-21],[140,5.0e-21],[142,1.0e-20],[145,2.1e-20],
  [151,2.6e-20],[158.9,1.0e-20],[162,5.0e-21],[240,5.0e-21],[244,1.0e-20],[248,1.6e-20],[252,1.2e-20],[256,1.0e-20],[260,5.0e-21],[600,5.0e-21],
  [612,1.0e-20],[618,1.5e-20],[624,1.0e-20],[630,5.0e-21],[1110,5.0e-21],[1127,1.07e-20],[1160,1.8e-20],[1190,1.2e-20],[1227,2.5e-20],[1250,5.0e-20],
  [1260,1.6e-20],[1300,2.2e-20],[1350,1.4e-20],[1405,4.1e-20],[1440,1.8e-20],[1460,5.5e-20],[1500,3.0e-20],[1540,1.3e-20],[1600,3.0e-20],[1640,1.6e-20],
  [1713,4.1e-20],[1760,2.0e-20],[1818,7.6e-20],[1850,3.0e-20],[1950,5.5e-20],[2035,1.23e-19],[2080,5.5e-20],[2135,1.55e-19],[2200,7.0e-20],[2280,8.5e-20],
  [2354,4.1e-20],[2450,6.0e-20],[2550,8.0e-20],[2650,7.0e-20],[2734,9.5e-20],[2850,1.1e-19],[2950,1.3e-19],[3050,1.1e-19],[3170,1.74e-19],[3300,1.3e-19],
  [3420,2.9e-18],[3440,1.4e-19],[3600,1.5e-19],[3760,1.55e-19],[3900,1.9e-19],[4000,2.2e-19],[4105,3.6e-19],[4200,2.4e-19],[4350,2.8e-19],[4500,2.4e-19],
  [4700,1.74e-19],[4850,2.5e-19],[5000,2.0e-19],
];

const upconversionNoise: Pt[] = [
  [69.6,2.1e-16],[72.5,1.9e-16],[75,1.7e-16],[77.8,2.3e-16],[80,1.78e-16],[82.7,1.5e-16],[86,1.9e-16],[88.6,3.1e-16],[91.5,2.1e-16],[95.9,1.1e-16],
  [99,1.32e-16],[103,9.1e-17],[108.5,6.0e-17],[113,7.6e-17],[118,6.6e-17],[122.7,5.0e-17],[127.4,3.1e-17],[132,5.0e-17],[139,4.4e-17],[145,2.75e-17],
  [149.3,7.2e-17],[152.5,2.4e-17],[160.7,1.78e-17],[170,1.9e-17],[177.6,1.66e-17],[181.9,1.58e-17],[186.4,1.3e-17],[195.9,1.1e-17],[203,9.5e-18],[210.6,7.6e-18],
  [218,8.5e-18],[227,6.0e-18],[237.4,5.5e-18],[246,6.0e-18],[248.9,3.9e-17],[251,5.5e-18],[253.9,4.2e-18],[261,3.3e-18],[269,2.6e-18],[277,3.3e-18],
  [285,2.9e-18],[295,2.0e-18],[305,1.55e-18],[317,1.4e-18],[328.6,1.1e-18],[340,1.3e-18],[346.6,5.6e-18],[349,1.2e-18],[360,9.5e-19],[370,8.5e-19],
  [380.8,6.8e-19],[395,8.0e-19],[405,7.5e-19],[408,1.02e-17],[411,7.0e-19],[420,8.5e-19],[432,6.5e-19],[440,9.0e-19],[447,2.0e-18],[452,7.0e-19],
  [464,5.9e-19],[472,8.0e-19],[480,1.1e-18],[488,6.5e-19],[497,1.23e-18],[482,5.6e-19],[1868,9.8e-21],
];

// ---------------- axes ----------------
const xGridValues = [30, 40, 50, 60, 70, 80, 90, 100, 200, 300, 400, 500, 600, 700, 800, 900, 1000, 2000, 3000, 4000, 5000];
const topDecades = [-19, -18, -17, -16, -15, -14, -13];
const bottomDecades = [-20, -19, -18, -17, -16, -15, -14, -13];
const mantissas = [1, 2, 3, 4, 5, 6, 7, 8, 9];
const legendMain = ['dL-sensitivity'];
const legendNoise = [
  'Intensitynoise', 'Alignmentnoise', 'dl-feedbacknoise', 'dl+feedbacknoise', 'Shotnoise',
  'Detectornoise', 'Det+Shot', 'Frequencynoise(err)', 'Upconversionnoise',
];

const FONT = "'Liberation Sans', Arial, Helvetica, sans-serif";

function isDecade(v: number) {
  const l = Math.log10(v);
  return Math.abs(l - Math.round(l)) < 1e-6;
}
function decadeLabel(v: number) {
  if (!isDecade(v)) return '';
  return `10{s|${Math.round(Math.log10(v))}}`;
}

function frameSeries(gi: number, decades: number[], yMin: number, layer: 'back' | 'front') {
  return {
    type: 'custom',
    xAxisIndex: gi,
    yAxisIndex: gi,
    silent: true,
    clip: false,
    z: layer === 'back' ? 1 : 6,
    data: [[30, yMin]],
    renderItem: (params: any, api: any) => {
      const cs = params.coordSys;
      const L = cs.x - 4, R = cs.x + cs.width + 4, T = cs.y - 4, B = cs.y + cs.height + 4;
      const ch: any[] = [];
      const seg = (x1: number, y1: number, x2: number, y2: number, stroke: string, w: number) =>
        ch.push({ type: 'line', shape: { x1, y1, x2, y2 }, style: { stroke, lineWidth: w, fill: null } });
      for (const v of xGridValues) {
        const px = api.coord([v, yMin])[0];
        const major = isDecade(v);
        if (layer === 'back') seg(px, T, px, B, major ? '#b4b4b4' : '#cdcdcd', 1.4);
        else {
          const len = major ? 16 : 9;
          seg(px, B, px, B - len, '#222', 1.2);
          seg(px, T, px, T + len, '#222', 1.2);
        }
      }
      const top = decades[decades.length - 1];
      for (const d of decades) {
        for (const m of mantissas) {
          if (d === top && m > 1) continue;
          const py = api.coord([30, m * Math.pow(10, d)])[1];
          const major = m === 1;
          if (layer === 'back') seg(L, py, R, py, major ? '#9c9c9c' : '#bdbdbd', 1.2);
          else {
            const len = major ? 17 : 9;
            seg(L, py, L + len, py, '#222', 1.2);
            seg(R, py, R - len, py, '#222', 1.2);
          }
        }
      }
      if (layer === 'front') {
        ch.push({ type: 'rect', shape: { x: L, y: T, width: R - L, height: B - T }, style: { fill: null, stroke: '#333', lineWidth: 1.5 } });
      }
      return { type: 'group', children: ch };
    },
  };
}

function lineSeries(name: string, data: Pt[], color: string, width: number, gi: number, z = 3) {
  return {
    type: 'line',
    name,
    data,
    xAxisIndex: gi,
    yAxisIndex: gi,
    showSymbol: false,
    symbol: 'none',
    silent: true,
    z,
    clip: true,
    lineStyle: { color, width },
    itemStyle: { color },
  };
}

function labelStyle(margin: number, big: number, small: number) {
  return {
    margin,
    formatter: decadeLabel,
    fontSize: big,
    fontWeight: 'bold',
    fontFamily: FONT,
    color: '#000',
    showMinLabel: true,
    showMaxLabel: true,
    rich: {
      s: { fontSize: small, fontWeight: 'bold', fontFamily: FONT, color: '#000', verticalAlign: 'top', padding: [0, 0, 0, 2] },
    },
  };
}

function xAxis(gi: number, margin: number) {
  return {
    gridIndex: gi,
    type: 'log',
    logBase: 10,
    min: 30,
    max: 5000,
    axisLine: { show: false },
    axisTick: { show: false },
    splitLine: { show: false },
    minorTick: { show: false },
    minorSplitLine: { show: false },
    axisLabel: labelStyle(margin, 28, 18),
  };
}

function yAxis(gi: number, min: number, margin: number) {
  return {
    gridIndex: gi,
    type: 'log',
    logBase: 10,
    min,
    max: 1e-13,
    splitNumber: 10,
    axisLine: { show: false },
    axisTick: { show: false },
    splitLine: { show: false },
    minorTick: { show: false },
    minorSplitLine: { show: false },
    axisLabel: labelStyle(margin, 28, 20),
  };
}

function yTitle(x: number, y: number) {
  return {
    type: 'text',
    x,
    y,
    rotation: Math.PI / 2,
    z: 12,
    style: {
      text: '{t|Displacement noise [m/Hz}{s|1/2}{t|]}',
      align: 'center',
      verticalAlign: 'middle',
      rich: {
        t: { fontSize: 30, fontWeight: 'bold', fontFamily: FONT, fill: '#000', color: '#000' },
        s: { fontSize: 18, fontWeight: 'bold', fontFamily: FONT, fill: '#000', color: '#000', verticalAlign: 'top' },
      },
    },
  };
}

function plainText(text: string, x: number, y: number, font: string, fill: string, extra: any = {}) {
  return { type: 'text', x, y, z: 12, style: { text, font, fill, align: 'left', verticalAlign: 'middle', ...extra } };
}

function buildOption() {
  const legendText = { fontSize: 19, fontFamily: FONT, color: '#000', lineHeight: 21.3, padding: [0, 0, 0, 4] };
  return {
    animation: false,
    backgroundColor: '#fff',
    textStyle: { fontFamily: FONT },
    grid: [
      { left: 153.4, top: 57.3, width: 691, height: 440, outerBoundsMode: 'none', containLabel: false },
      { left: 156.4, top: 683.5, width: 691, height: 440.8, outerBoundsMode: 'none', containLabel: false },
    ],
    xAxis: [xAxis(0, 15), xAxis(1, 21)],
    yAxis: [yAxis(0, 1e-19, 15), yAxis(1, 1e-20, 17)],
    legend: [
      {
        data: legendMain, orient: 'vertical', left: 590, top: 692.4, icon: 'rect', itemWidth: 36, itemHeight: 2,
        itemGap: 0, selectedMode: false, z: 20, padding: 0,
        textStyle: { ...legendText, fontWeight: 'bold' },
      },
      {
        data: legendNoise, orient: 'vertical', left: 590, top: 735.4, icon: 'rect', itemWidth: 36, itemHeight: 2,
        itemGap: 0, selectedMode: false, z: 20, padding: 0,
        textStyle: legendText,
      },
    ],
    graphic: {
      elements: [
        plainText('(a)', 12, 25, `bold 28px ${FONT}`, '#000'),
        plainText('(b)', 12, 640, `bold 28px ${FONT}`, '#000'),
        yTitle(45, 270),
        yTitle(46, 902),
        { type: 'text', x: 505, y: 570, z: 12, style: { text: 'Frequency [Hz]', font: `bold 29px ${FONT}`, fill: '#000', align: 'center', verticalAlign: 'middle' } },
        { type: 'text', x: 505, y: 1208, z: 12, style: { text: 'Frequency [Hz]', font: `bold 29px ${FONT}`, fill: '#000', align: 'center', verticalAlign: 'middle' } },
        plainText('2003/11/04 Previous best', 356, 131, `italic bold 29px ${FONT}`, '#000', { backgroundColor: '#fff', padding: [3, 3, 3, 3] }),
        plainText('2008/10/10 Current best', 439, 229, `italic bold 30px ${FONT}`, '#ff0000', { backgroundColor: '#fff', padding: [2, 3, 2, 3] }),
        { type: 'rect', z: 10, shape: { x: 585, y: 690, width: 237, height: 242 }, style: { fill: '#5c5c5c' } },
        { type: 'rect', z: 11, shape: { x: 582, y: 687, width: 237, height: 242 }, style: { fill: '#fff', stroke: '#333', lineWidth: 1 } },
      ],
    },
    series: [
      frameSeries(0, topDecades, 1e-19, 'back'),
      frameSeries(1, bottomDecades, 1e-20, 'back'),
      lineSeries('2008/10/10 Current best', currentBest2008, '#ff0000', 1.6, 0, 3),
      lineSeries('2003/11/04 Previous best', previousBest2003, '#000000', 1.5, 0, 4),
      lineSeries('Intensitynoise', intensityNoise, '#ff8a8a', 1.3, 1, 3),
      lineSeries('dL-sensitivity', dlSensitivity, '#ff0000', 1.6, 1, 3),
      lineSeries('Alignmentnoise', alignmentNoise, '#ffa500', 1.6, 1, 3),
      lineSeries('dl-feedbacknoise', dlFeedbackNoise, '#159a15', 1.3, 1, 3),
      lineSeries('dl+feedbacknoise', dlPlusFeedbackNoise, '#808080', 1.3, 1, 3),
      lineSeries('Shotnoise', shotNoise, '#b3a300', 1.2, 1, 3),
      lineSeries('Detectornoise', detectorNoise, '#8f8a00', 1.2, 1, 3),
      lineSeries('Det+Shot', detShotNoise, '#7fd22a', 1.3, 1, 3),
      lineSeries('Frequencynoise(err)', frequencyNoiseErr, '#b08ae8', 1.2, 1, 3),
      lineSeries('Upconversionnoise', upconversionNoise, '#0000ff', 1.3, 1, 4),
      frameSeries(0, topDecades, 1e-19, 'front'),
      frameSeries(1, bottomDecades, 1e-20, 'front'),
    ],
  };
}

export default function App() {
  const ref = useRef<HTMLDivElement>(null);
  useEffect(() => {
    document.body.style.margin = '0';
    const chart = echarts.init(ref.current as HTMLDivElement, undefined, { renderer: 'svg' });
    chart.setOption(buildOption() as any);
    return () => chart.dispose();
  }, []);
  return (
    <div
      ref={ref}
      style={{ position: 'absolute', left: 0, top: 0, width: 841, height: 1228, background: '#fff', overflow: 'hidden' }}
    />
  );
}
